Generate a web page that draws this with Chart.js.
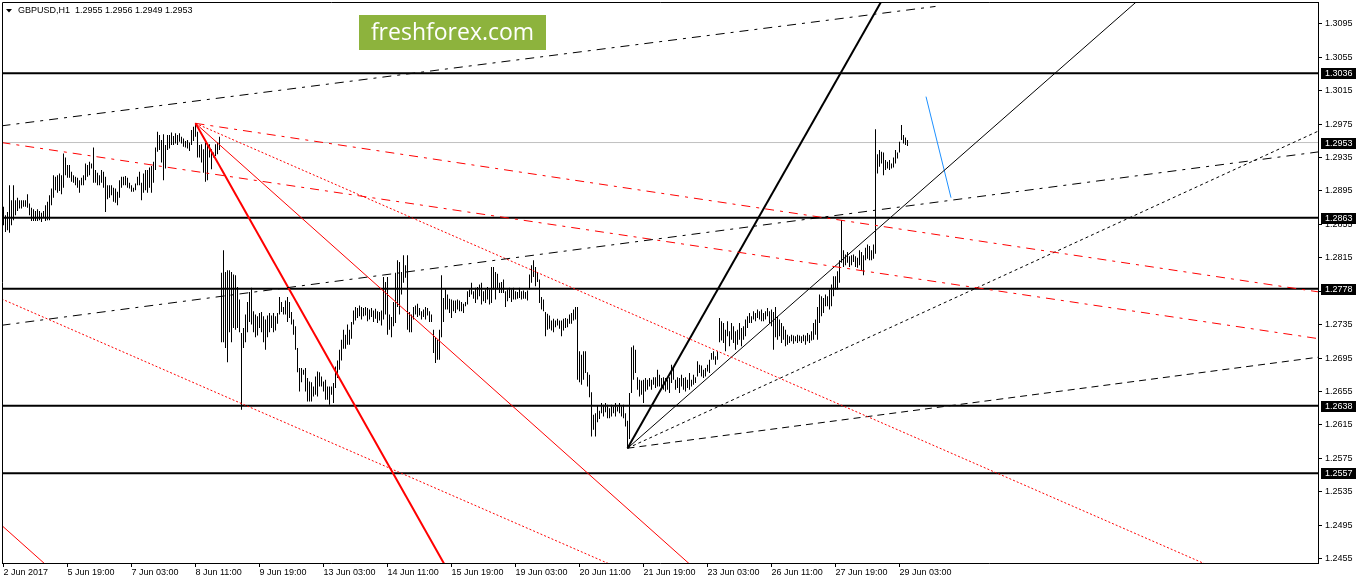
<!DOCTYPE html>
<html><head><meta charset="utf-8">
<style>html,body{margin:0;padding:0;background:#fff;overflow:hidden}canvas{display:block}</style>
<script src="https://cdn.jsdelivr.net/npm/chart.js"></script>
</head><body>
<canvas id="c" width="1358" height="584"></canvas>
<script>
const symbolTitle = 'GBPUSD,H1  1.2955 1.2956 1.2949 1.2953';
const watermarkText = 'freshforex.com';
const tickLabels = ['2 Jun 2017','5 Jun 19:00','7 Jun 03:00','8 Jun 11:00','9 Jun 19:00','13 Jun 03:00','14 Jun 11:00','15 Jun 19:00','19 Jun 03:00','20 Jun 11:00','21 Jun 19:00','23 Jun 03:00','26 Jun 11:00','27 Jun 19:00','29 Jun 03:00'];
const tickBars = [0,32,64,96,128,160,192,224,256,288,320,352,384,416,448];
const priceTicks = [1.2455,1.2495,1.2535,1.2575,1.2615,1.2655,1.2695,1.2735,1.2775,1.2815,1.2855,1.2895,1.2935,1.2975,1.3015,1.3055,1.3095];

const highs = [
1.2876,1.2866,1.2870,1.2902,1.2884,1.2902,1.2884,1.2887,1.2884,1.2884,
1.2884,1.2884,1.2891,1.2880,1.2875,1.2873,1.2871,1.2873,1.2871,1.2869,
1.2871,1.2878,1.2882,1.2890,1.2898,1.2914,1.2912,1.2914,1.2916,1.2914,
1.2940,1.2935,1.2926,1.2926,1.2918,1.2914,1.2912,1.2911,1.2908,1.2911,
1.2914,1.2928,1.2926,1.2930,1.2928,1.2947,1.2920,1.2917,1.2914,1.2920,
1.2918,1.2912,1.2902,1.2902,1.2902,1.2899,1.2898,1.2894,1.2908,1.2912,
1.2912,1.2913,1.2911,1.2905,1.2902,1.2899,1.2904,1.2912,1.2918,1.2905,
1.2916,1.2920,1.2920,1.2923,1.2925,1.2930,1.2947,1.2966,1.2962,1.2956,
1.2963,1.2950,1.2962,1.2962,1.2965,1.2961,1.2964,1.2962,1.2964,1.2960,
1.2958,1.2955,1.2956,1.2953,1.2968,1.2972,1.2976,1.2966,1.2950,1.2951,
1.2945,1.2953,1.2952,1.2951,1.2945,1.2941,1.2951,1.2953,1.2960,1.2797,
1.2824,1.2798,1.2800,1.2800,1.2798,1.2795,1.2794,1.2780,1.2765,1.2725,
1.2731,1.2747,1.2762,1.2774,1.2779,1.2751,1.2747,1.2745,1.2749,1.2750,
1.2745,1.2741,1.2746,1.2749,1.2746,1.2749,1.2745,1.2749,1.2768,1.2762,
1.2756,1.2764,1.2768,1.2762,1.2750,1.2741,1.2733,1.2707,1.2683,1.2683,
1.2681,1.2683,1.2671,1.2667,1.2666,1.2661,1.2673,1.2679,1.2678,1.2673,
1.2667,1.2669,1.2661,1.2661,1.2661,1.2665,1.2685,1.2692,1.2705,1.2717,
1.2729,1.2723,1.2735,1.2729,1.2738,1.2752,1.2756,1.2755,1.2758,1.2756,
1.2755,1.2756,1.2755,1.2753,1.2755,1.2752,1.2754,1.2751,1.2750,1.2752,
1.2792,1.2786,1.2792,1.2747,1.2744,1.2762,1.2797,1.2812,1.2810,1.2798,
1.2818,1.2806,1.2818,1.2750,1.2747,1.2756,1.2758,1.2760,1.2755,1.2751,
1.2753,1.2756,1.2755,1.2751,1.2747,1.2729,1.2720,1.2717,1.2729,1.2794,
1.2767,1.2777,1.2771,1.2766,1.2765,1.2764,1.2764,1.2765,1.2764,1.2762,
1.2760,1.2762,1.2775,1.2777,1.2785,1.2775,1.2779,1.2780,1.2783,1.2785,
1.2775,1.2777,1.2780,1.2777,1.2804,1.2804,1.2798,1.2796,1.2785,1.2786,
1.2789,1.2775,1.2777,1.2779,1.2777,1.2779,1.2775,1.2774,1.2779,1.2775,
1.2776,1.2774,1.2776,1.2795,1.2806,1.2812,1.2804,1.2798,1.2789,1.2768,
1.2765,1.2750,1.2748,1.2746,1.2740,1.2742,1.2740,1.2742,1.2740,1.2740,
1.2742,1.2743,1.2742,1.2747,1.2749,1.2753,1.2756,1.2756,1.2703,1.2699,
1.2703,1.2703,1.2678,1.2675,1.2654,1.2627,1.2629,1.2638,1.2632,1.2641,
1.2639,1.2641,1.2639,1.2635,1.2639,1.2637,1.2641,1.2637,1.2641,1.2637,
1.2639,1.2629,1.2620,1.2653,1.2708,1.2710,1.2705,1.2672,1.2669,1.2668,
1.2669,1.2671,1.2669,1.2671,1.2669,1.2672,1.2672,1.2681,1.2675,1.2671,
1.2672,1.2671,1.2669,1.2672,1.2687,1.2684,1.2669,1.2672,1.2671,1.2675,
1.2671,1.2672,1.2669,1.2677,1.2669,1.2675,1.2672,1.2691,1.2687,1.2686,
1.2681,1.2683,1.2687,1.2693,1.2701,1.2703,1.2697,1.2703,1.2743,1.2739,
1.2737,1.2729,1.2739,1.2727,1.2737,1.2733,1.2727,1.2729,1.2737,1.2731,
1.2733,1.2741,1.2745,1.2749,1.2745,1.2751,1.2749,1.2753,1.2751,1.2753,
1.2749,1.2751,1.2755,1.2751,1.2753,1.2750,1.2756,1.2745,1.2741,1.2737,
1.2733,1.2729,1.2723,1.2721,1.2723,1.2722,1.2721,1.2723,1.2722,1.2721,
1.2723,1.2722,1.2725,1.2723,1.2727,1.2737,1.2741,1.2756,1.2771,1.2769,
1.2767,1.2771,1.2769,1.2777,1.2783,1.2793,1.2793,1.2799,1.2812,1.2860,
1.2824,1.2819,1.2822,1.2817,1.2818,1.2819,1.2817,1.2815,1.2824,1.2822,
1.2818,1.2827,1.2831,1.2829,1.2824,1.2831,1.2969,1.2939,1.2944,1.2942,
1.2941,1.2932,1.2930,1.2932,1.2928,1.2935,1.2944,1.2941,1.2954,1.2974,
1.2962,1.2959,1.2956];
const lows = [
1.2854,1.2846,1.2848,1.2845,1.2854,1.2860,1.2866,1.2871,1.2874,1.2874,
1.2876,1.2876,1.2875,1.2866,1.2859,1.2859,1.2859,1.2859,1.2860,1.2858,
1.2863,1.2859,1.2860,1.2860,1.2878,1.2887,1.2896,1.2893,1.2895,1.2891,
1.2899,1.2914,1.2911,1.2911,1.2906,1.2905,1.2902,1.2899,1.2893,1.2902,
1.2902,1.2908,1.2912,1.2914,1.2922,1.2905,1.2905,1.2902,1.2902,1.2905,
1.2899,1.2870,1.2885,1.2887,1.2890,1.2882,1.2881,1.2878,1.2887,1.2899,
1.2902,1.2902,1.2899,1.2898,1.2894,1.2894,1.2896,1.2902,1.2902,1.2884,
1.2893,1.2896,1.2893,1.2899,1.2893,1.2905,1.2920,1.2942,1.2944,1.2929,
1.2908,1.2922,1.2944,1.2946,1.2950,1.2950,1.2952,1.2950,1.2954,1.2952,
1.2948,1.2947,1.2946,1.2943,1.2950,1.2955,1.2960,1.2935,1.2935,1.2929,
1.2917,1.2906,1.2908,1.2935,1.2921,1.2935,1.2937,1.2939,1.2944,1.2714,
1.2714,1.2707,1.2690,1.2726,1.2714,1.2731,1.2729,1.2731,1.2726,1.2633,
1.2707,1.2714,1.2726,1.2738,1.2735,1.2726,1.2720,1.2722,1.2731,1.2726,
1.2714,1.2705,1.2720,1.2726,1.2731,1.2726,1.2728,1.2736,1.2747,1.2750,
1.2747,1.2747,1.2738,1.2743,1.2735,1.2723,1.2705,1.2678,1.2655,1.2666,
1.2675,1.2655,1.2643,1.2643,1.2643,1.2649,1.2651,1.2649,1.2661,1.2661,
1.2655,1.2645,1.2645,1.2639,1.2651,1.2641,1.2659,1.2671,1.2681,1.2692,
1.2706,1.2706,1.2711,1.2711,1.2718,1.2735,1.2740,1.2743,1.2745,1.2741,
1.2745,1.2746,1.2739,1.2741,1.2744,1.2738,1.2742,1.2737,1.2740,1.2734,
1.2741,1.2747,1.2723,1.2729,1.2720,1.2733,1.2737,1.2756,1.2747,1.2771,
1.2785,1.2791,1.2729,1.2726,1.2726,1.2741,1.2747,1.2744,1.2746,1.2741,
1.2744,1.2741,1.2746,1.2738,1.2738,1.2701,1.2689,1.2693,1.2693,1.2720,
1.2738,1.2753,1.2753,1.2749,1.2743,1.2751,1.2749,1.2753,1.2751,1.2751,
1.2749,1.2757,1.2759,1.2768,1.2771,1.2766,1.2761,1.2765,1.2769,1.2759,
1.2763,1.2761,1.2765,1.2759,1.2761,1.2777,1.2765,1.2777,1.2773,1.2773,
1.2773,1.2756,1.2763,1.2767,1.2762,1.2765,1.2765,1.2766,1.2767,1.2765,
1.2766,1.2766,1.2764,1.2777,1.2785,1.2792,1.2781,1.2786,1.2761,1.2753,
1.2751,1.2721,1.2729,1.2730,1.2728,1.2726,1.2732,1.2734,1.2730,1.2721,
1.2728,1.2731,1.2732,1.2736,1.2736,1.2740,1.2741,1.2669,1.2666,1.2663,
1.2669,1.2677,1.2661,1.2648,1.2601,1.2609,1.2601,1.2618,1.2622,1.2629,
1.2625,1.2630,1.2623,1.2623,1.2625,1.2629,1.2625,1.2631,1.2629,1.2625,
1.2623,1.2613,1.2587,1.2598,1.2653,1.2669,1.2677,1.2657,1.2649,1.2651,
1.2641,1.2655,1.2657,1.2661,1.2657,1.2663,1.2659,1.2661,1.2661,1.2659,
1.2657,1.2655,1.2657,1.2653,1.2665,1.2669,1.2657,1.2659,1.2653,1.2661,
1.2657,1.2655,1.2659,1.2657,1.2661,1.2663,1.2665,1.2673,1.2677,1.2673,
1.2671,1.2673,1.2679,1.2677,1.2693,1.2693,1.2687,1.2693,1.2714,1.2716,
1.2713,1.2703,1.2721,1.2709,1.2717,1.2713,1.2705,1.2711,1.2717,1.2709,
1.2717,1.2721,1.2731,1.2737,1.2737,1.2741,1.2739,1.2743,1.2741,1.2739,
1.2739,1.2741,1.2745,1.2737,1.2733,1.2705,1.2720,1.2717,1.2721,1.2713,
1.2717,1.2709,1.2711,1.2713,1.2715,1.2712,1.2715,1.2713,1.2715,1.2713,
1.2715,1.2711,1.2715,1.2713,1.2716,1.2717,1.2723,1.2717,1.2737,1.2745,
1.2749,1.2757,1.2757,1.2753,1.2757,1.2769,1.2777,1.2777,1.2785,1.2809,
1.2804,1.2806,1.2809,1.2804,1.2806,1.2810,1.2804,1.2803,1.2806,1.2800,
1.2794,1.2812,1.2814,1.2812,1.2812,1.2814,1.2820,1.2916,1.2924,1.2928,
1.2914,1.2920,1.2922,1.2920,1.2922,1.2923,1.2928,1.2934,1.2941,1.2956,
1.2952,1.2950,1.2949];

const levels = [1.3036, 1.2863, 1.2778, 1.2638, 1.2557];
const bidPrice = 1.2953;

// trend lines: [bar index, price] end points
const channelUpper = [[-1, 1.2973], [466, 1.3116]];
const channelLower = [[-1, 1.27342], [658, 1.2942]];
const redDashLeft = [[-1, 1.2953], [658, 1.2718]];
const redDashPeak = [[96, 1.2976], [658, 1.2774]];
const redThickPeak = [[96, 1.2976], [224, 1.2433]];
const redThinPeak = [[96, 1.2976], [346, 1.2442]];
const redDotPeak = [[96, 1.2976], [606, 1.2443]];
const redDotLeft = [[-1, 1.27658], [306, 1.24452]];
const redThinLeft = [[-1, 1.24948], [24, 1.24414]];
const blackThickLow = [[312, 1.2587], [442, 1.3135]];
const blackThinLow = [[312, 1.2587], [570, 1.3129]];
const blackDotLow = [[312, 1.2587], [658, 1.29674]];
const blackDashLow = [[312, 1.2587], [658, 1.26962]];
const blueLine = [[461.25, 1.3008], [473.75, 1.2887]];

Chart.defaults.font.family = "'Liberation Sans', Arial, sans-serif";
Chart.defaults.font.size = 9;
Chart.defaults.color = '#000';

const X_MIN = -0.75, X_MAX = 657.25, Y_MIN = 1.244956, Y_MAX = 1.312131;
const pts = a => a.map(p => ({x: p[0], y: p[1]}));
const hline = v => [{x: X_MIN, y: v}, {x: X_MAX, y: v}];
function lineDs(data, color, width, dash, order) {
  return {type: 'line', data, borderColor: color, borderWidth: width, borderDash: dash || [],
    pointRadius: 0, pointHoverRadius: 0, fill: false, tension: 0, clip: 0,
    order: order === undefined ? 1 : order, borderCapStyle: 'butt'};
}
const RED = '#FF0000', BLK = '#000000';
const DASHDOT = [9, 6, 3, 6];

const datasets = [
  {type: 'bar', data: highs.map((h, i) => ({x: i, y: [lows[i], h]})), backgroundColor: '#000',
   borderWidth: 0, barThickness: 1, inflateAmount: 0, grouped: false, order: 10},
  lineDs(hline(bidPrice), '#C0C0C0', 1, [], 12),
  ...levels.map(v => lineDs(hline(v), BLK, 2, [], 2)),
  lineDs(pts(channelUpper), BLK, 1, DASHDOT),
  lineDs(pts(channelLower), BLK, 1, DASHDOT),
  lineDs(pts(redDashLeft), RED, 1, DASHDOT),
  lineDs(pts(redDashPeak), RED, 1, DASHDOT),
  lineDs(pts(redThickPeak), RED, 2, []),
  lineDs(pts(redThinPeak), RED, 1, []),
  lineDs(pts(redDotPeak), RED, 1, [2, 2]),
  lineDs(pts(redDotLeft), RED, 1, [2, 2]),
  lineDs(pts(redThinLeft), RED, 1, []),
  lineDs(pts(blackThickLow), BLK, 2, []),
  lineDs(pts(blackThinLow), BLK, 1, []),
  lineDs(pts(blackDotLow), BLK, 1, [3, 3]),
  lineDs(pts(blackDashLow), BLK, 1, [7, 5]),
  lineDs(pts(blueLine), '#1E90FF', 1, [])
];

const decor = {
  id: 'decor',
  afterDatasetsDraw(chart) {
    const {ctx, chartArea: a} = chart;
    ctx.save();
    ctx.strokeStyle = '#000'; ctx.lineWidth = 1;
    ctx.beginPath();
    ctx.moveTo(a.left + 0.5, a.bottom); ctx.lineTo(a.left + 0.5, a.top + 0.5); ctx.lineTo(a.right, a.top + 0.5);
    ctx.stroke();
    // title
    ctx.fillStyle = '#000';
    ctx.beginPath(); ctx.moveTo(6, 9); ctx.lineTo(12, 9); ctx.lineTo(9, 12.5); ctx.closePath(); ctx.fill();
    ctx.font = "9px 'Liberation Sans', Arial, sans-serif";
    ctx.textBaseline = 'middle'; ctx.textAlign = 'left';
    ctx.fillText(symbolTitle, 18, 11);
    // watermark
    ctx.fillStyle = '#8DB33D';
    ctx.fillRect(359, 15, 187, 35);
    ctx.fillStyle = '#fff';
    ctx.font = "23px 'Open Sans', sans-serif";
    ctx.textAlign = 'center'; ctx.textBaseline = 'alphabetic';
    ctx.fillText(watermarkText, 452.5, 40);
    ctx.restore();
  },
  afterDraw(chart) {
    const {ctx, chartArea: a} = chart;
    const ys = chart.scales.y;
    ctx.save();
    ctx.font = "9px 'Liberation Sans', Arial, sans-serif";
    ctx.textBaseline = 'middle'; ctx.textAlign = 'left';
    [...levels, bidPrice].forEach(p => {
      const py = ys.getPixelForValue(p);
      ctx.fillStyle = '#000';
      ctx.fillRect(a.right + 3, Math.round(py) - 5, 35, 11);
      ctx.fillStyle = '#fff';
      ctx.fillText(p.toFixed(4), a.right + 7, Math.round(py) + 0.5);
    });
    ctx.restore();
  }
};

new Chart(document.getElementById('c'), {
  type: 'bar',
  data: {datasets},
  options: {
    responsive: false, animation: false, devicePixelRatio: 1, events: [],
    layout: {padding: {left: 2, top: 2, right: 0, bottom: 0}},
    plugins: {legend: {display: false}, tooltip: {enabled: false}, title: {display: false}},
    scales: {
      x: {type: 'linear', min: X_MIN, max: X_MAX, offset: false, position: 'bottom',
        grid: {display: true, drawOnChartArea: false, drawTicks: true, tickLength: 4, tickColor: '#000', offset: false},
        border: {display: true, color: '#000', width: 1},
        ticks: {autoSkip: false, maxRotation: 0, minRotation: 0, align: 'start', padding: 0, color: '#000',
          callback: (v, i) => tickLabels[i]},
        afterBuildTicks: s => { s.ticks = tickBars.map(v => ({value: v})); },
        afterFit: s => { s.height = 21; s.paddingLeft = 0; s.paddingRight = 0; }
      },
      y: {type: 'linear', position: 'right', min: Y_MIN, max: Y_MAX, beginAtZero: false, grace: 0,
        grid: {display: true, drawOnChartArea: false, drawTicks: true, tickLength: 4, tickColor: '#000'},
        border: {display: true, color: '#000', width: 1},
        ticks: {padding: 3, color: '#000', callback: v => Number(v).toFixed(4)},
        afterBuildTicks: s => { s.ticks = priceTicks.map(v => ({value: v})); },
        afterFit: s => { s.width = 40; s.paddingTop = 0; s.paddingBottom = 0; }
      }
    }
  },
  plugins: [decor]
});
</script>
</body></html>
